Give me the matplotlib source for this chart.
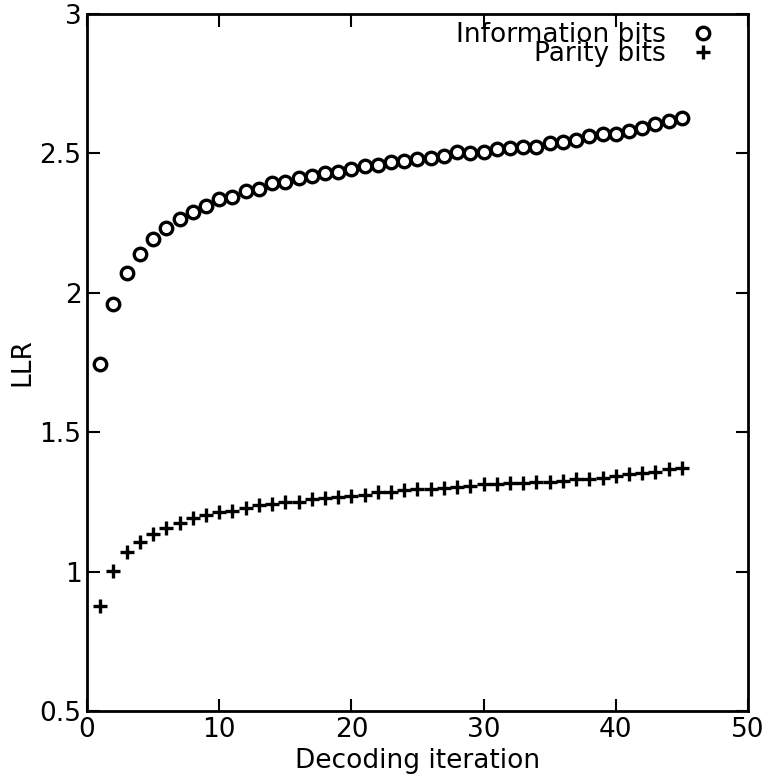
import matplotlib
matplotlib.use("Agg")
import matplotlib.pyplot as plt

iterations = list(range(1, 46))

info_bits = [1.745, 1.960, 2.071, 2.139, 2.193, 2.232, 2.265, 2.290, 2.311, 2.335,
             2.345, 2.366, 2.371, 2.393, 2.399, 2.411, 2.420, 2.429, 2.434, 2.446,
             2.455, 2.458, 2.470, 2.474, 2.480, 2.485, 2.492, 2.504, 2.500, 2.506,
             2.515, 2.518, 2.522, 2.522, 2.538, 2.542, 2.550, 2.562, 2.570, 2.570,
             2.581, 2.592, 2.605, 2.615, 2.626]

parity_bits = [0.878, 1.003, 1.069, 1.106, 1.135, 1.155, 1.175, 1.191, 1.203, 1.215,
               1.218, 1.227, 1.239, 1.242, 1.249, 1.249, 1.259, 1.263, 1.269, 1.271,
               1.275, 1.284, 1.287, 1.293, 1.295, 1.296, 1.299, 1.305, 1.307, 1.313,
               1.314, 1.317, 1.319, 1.322, 1.322, 1.325, 1.332, 1.332, 1.337, 1.344,
               1.349, 1.355, 1.356, 1.367, 1.371]

plt.rcParams['font.family'] = ['DejaVu Sans']
plt.rcParams['font.size'] = 19

fig = plt.figure(figsize=(7.69, 7.81), dpi=100)
ax = fig.add_axes([0.1131, 0.0896, 0.8596, 0.8924])

ax.plot(iterations, info_bits, linestyle='none', marker='o', markersize=9,
        markerfacecolor='white', markeredgecolor='black', markeredgewidth=2.4,
        label='Information bits')
ax.plot(iterations, parity_bits, linestyle='none', marker='+', markersize=10,
        color='black', markeredgewidth=2.4, label='Parity bits')

ax.set_xlim(0, 50)
ax.set_ylim(0.5, 3)
ax.set_xticks([0, 10, 20, 30, 40, 50])
ax.set_yticks([0.5, 1, 1.5, 2, 2.5, 3])
ax.set_yticklabels(['0.5', '1', '1.5', '2', '2.5', '3'])
ax.tick_params(direction='in', length=9, width=1.5, top=True, right=True, pad=4)
for s in ax.spines.values():
    s.set_linewidth(2)

ax.set_xlabel('Decoding iteration', labelpad=4)
ax.set_ylabel('LLR', labelpad=3)

ax.legend(loc='upper right', bbox_to_anchor=(0.964, 1.0), frameon=False,
          markerfirst=False, labelspacing=-0.25, handlelength=1.0,
          handletextpad=0.9, borderaxespad=0.1, borderpad=0.2)

fig.savefig('out.png', dpi=100)
